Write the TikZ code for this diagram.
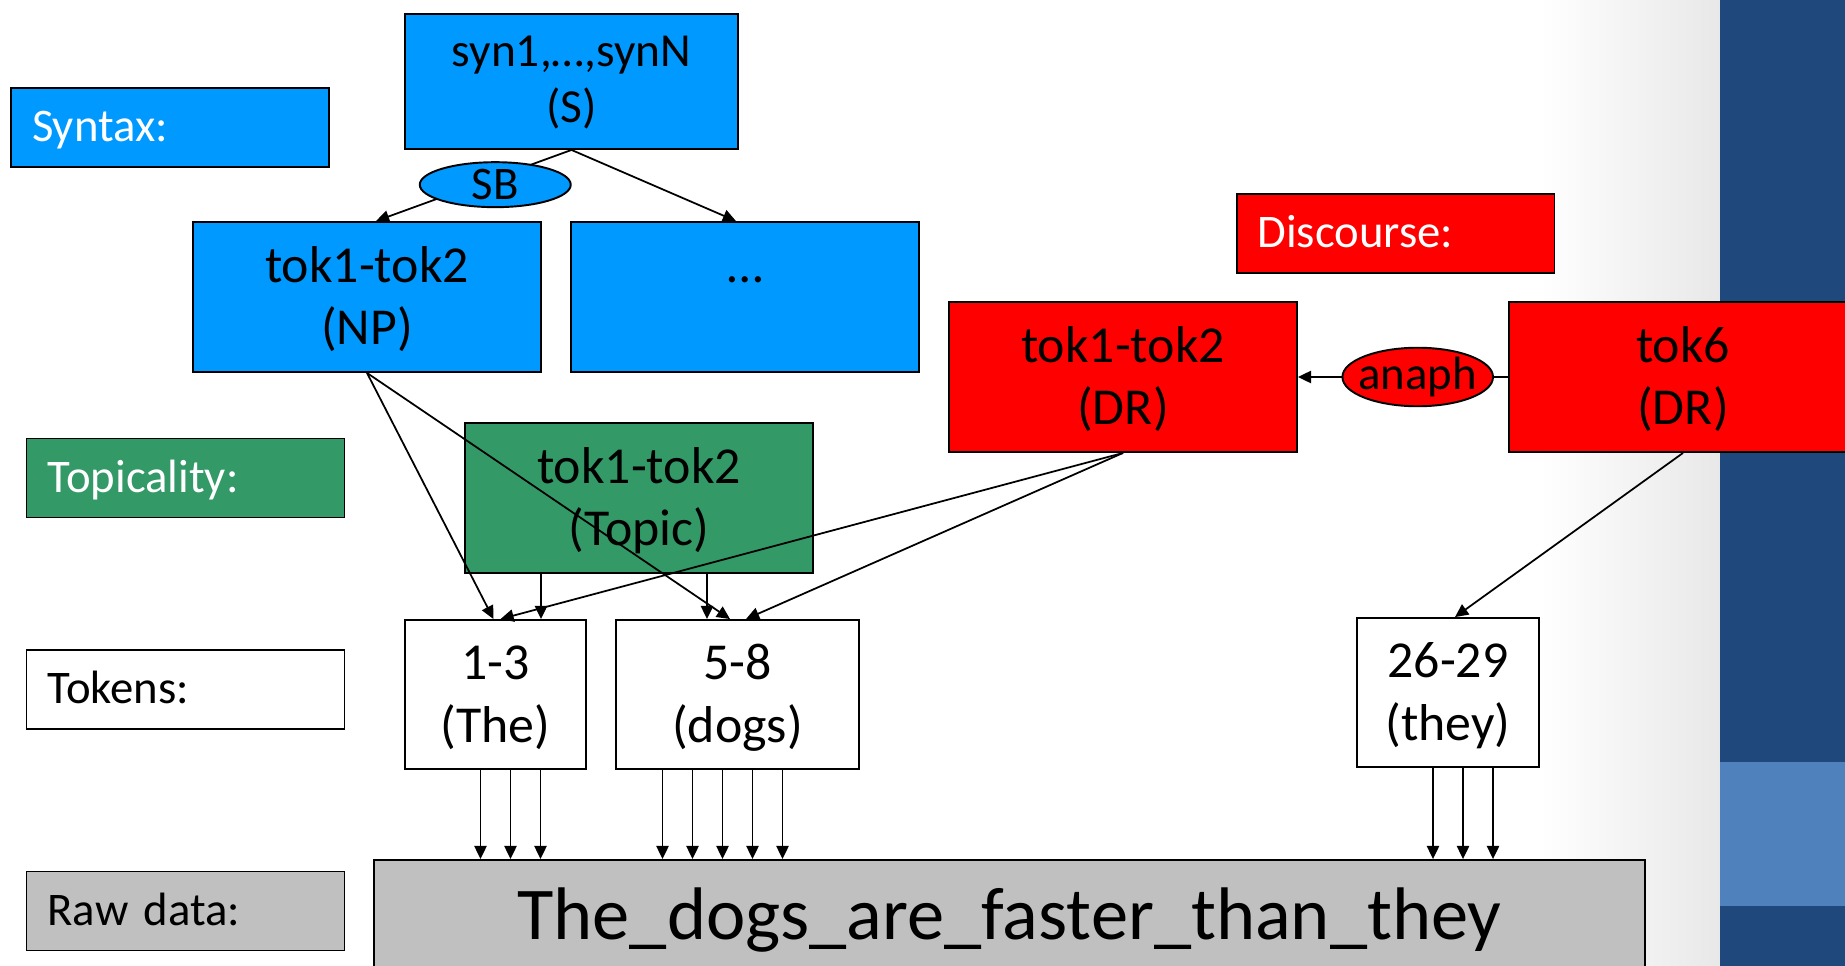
\documentclass[tikz,border=0pt]{standalone}
\usepackage{fontspec}
\setmainfont{Carlito}
\usetikzlibrary{shapes.geometric,arrows.meta,positioning,calc}
\definecolor{synblue}{RGB}{0,153,255}
\definecolor{topgreen}{RGB}{51,153,102}
\definecolor{disred}{RGB}{255,0,0}
\definecolor{rawgray}{RGB}{192,192,192}
\definecolor{stripe}{RGB}{31,73,125}
\definecolor{stripelight}{RGB}{79,129,189}
\begin{document}
\begin{tikzpicture}[x=0.02cm, y=-0.02cm,
  lbl/.style={draw, line width=1.1pt, minimum width=6.36cm, minimum height=1.58cm, text width=5.52cm, inner xsep=0.42cm, align=left, text height=16.4pt, text depth=0pt, font=\fontsize{26.6}{32}\selectfont},
  box/.style={draw, line width=1.1pt, minimum width=6.96cm, minimum height=3cm, align=center, text height=54.4pt, text depth=0pt, font=\fontsize{29.5}{35.7}\selectfont},
  tok/.style={box, fill=white, minimum width=3.62cm, minimum height=2.98cm},
  oval/.style={draw, ellipse, line width=1.1pt, minimum width=3.02cm, minimum height=0.9cm, inner sep=0pt, font=\fontsize{26.6}{32}\selectfont},
  arr/.style={-{Triangle[length=7.5pt,width=7pt]}, line width=1pt}]
\useasboundingbox (0,0) rectangle (1845,966);
\clip (0,0) rectangle (1845,966);
\fill[white] (0,0) rectangle (1845,966);
\shade[left color=white, right color=black!9] (1540,0) rectangle (1720,966);
\fill[stripe] (1720,0) rectangle (1845,966);
\fill[stripelight] (1720,762) rectangle (1845,906);

\node[lbl, fill=synblue, text=white] (synlbl) at (170,127.5) {Syntax:};
\node[lbl, fill=topgreen, text=white] (toplbl) at (185.5,478) {Topicality:};
\node[lbl, fill=white] (toklbl) at (185.5,689.5) {Tokens:};
\node[lbl, fill=rawgray] (rawlbl) at (185.5,911) {Raw data:};
\node[lbl, fill=disred, text=white] (dislbl) at (1395.5,233.5) {Discourse:};

\node[box, fill=synblue, minimum width=6.66cm, minimum height=2.7cm, text height=47pt, font=\fontsize{27}{32.3}\selectfont] (syn) at (571.5,81.5) {syn1,…,synN\\(S)};
\node[box, fill=synblue] (np) at (367,297) {tok1-tok2\\(NP)};
\node[box, fill=synblue] (more) at (745,297) {…\\\strut};
\node[box, fill=topgreen] (topic) at (639,498) {tok1-tok2\\(Topic)};
\node[box, fill=disred] (dr) at (1123,377) {tok1-tok2\\(DR)};
\node[box, fill=disred] (drsix) at (1683,377) {tok6\\(DR)};
\node[tok] (the) at (495.5,694.5) {1-3\\(The)};
\node[tok, minimum width=4.86cm] (dogs) at (737.5,694.5) {5-8\\(dogs)};
\node[tok, minimum width=3.64cm] (they) at (1448,692.5) {26-29\\(they)};
\node[draw, line width=1.1pt, fill=rawgray, minimum width=25.42cm, minimum height=2.6cm, text height=30pt, text depth=13pt, font=\fontsize{42.4}{50}\selectfont] (raw) at (1009.5,925) {The\_dogs\_are\_faster\_than\_they};

\draw[arr] (syn.south) -- node[oval, fill=synblue, pos=0.39, yshift=-0.14cm] (sb) {SB} ($(np.north)+(9,0)$);
\draw[arr] (syn.south) -- ($(more.north)+(-9,0)$);
\draw[arr] (drsix.west) -- node[oval, fill=disred, pos=0.43, minimum width=0pt, minimum height=0pt, inner xsep=-3.4pt, inner ysep=0.4pt] (ana) {anaph} (dr.east);
\draw[arr] (np.south) -- ($(the.north)+(-2,0)$);
\draw[arr] (np.south) -- ($(dogs.north)+(-7.5,0)$);
\draw[arr] (dr.south) -- ($(the.north)+(5,0)$);
\draw[arr] (dr.south) -- ($(dogs.north)+(8.5,0)$);
\draw[arr] (drsix.south) -- ($(they.north)+(7,0)$);
\draw[arr] ($(topic.south)+(-98,0)$) coordinate (tl) -- (tl |- the.north);
\draw[arr] ($(topic.south)+(68,0)$) coordinate (tr) -- (tr |- dogs.north);
\foreach \dx in {-15,15,45} {
  \draw[arr] ($(the.south)+(\dx,0)$) coordinate (a) -- (a |- raw.north);
  \draw[arr] ($(they.south)+(\dx,0)$) coordinate (a) -- (a |- raw.north);
}
\foreach \dx in {-75,-45,-15,15,45}
  \draw[arr] ($(dogs.south)+(\dx,0)$) coordinate (a) -- (a |- raw.north);
\end{tikzpicture}
\end{document}
